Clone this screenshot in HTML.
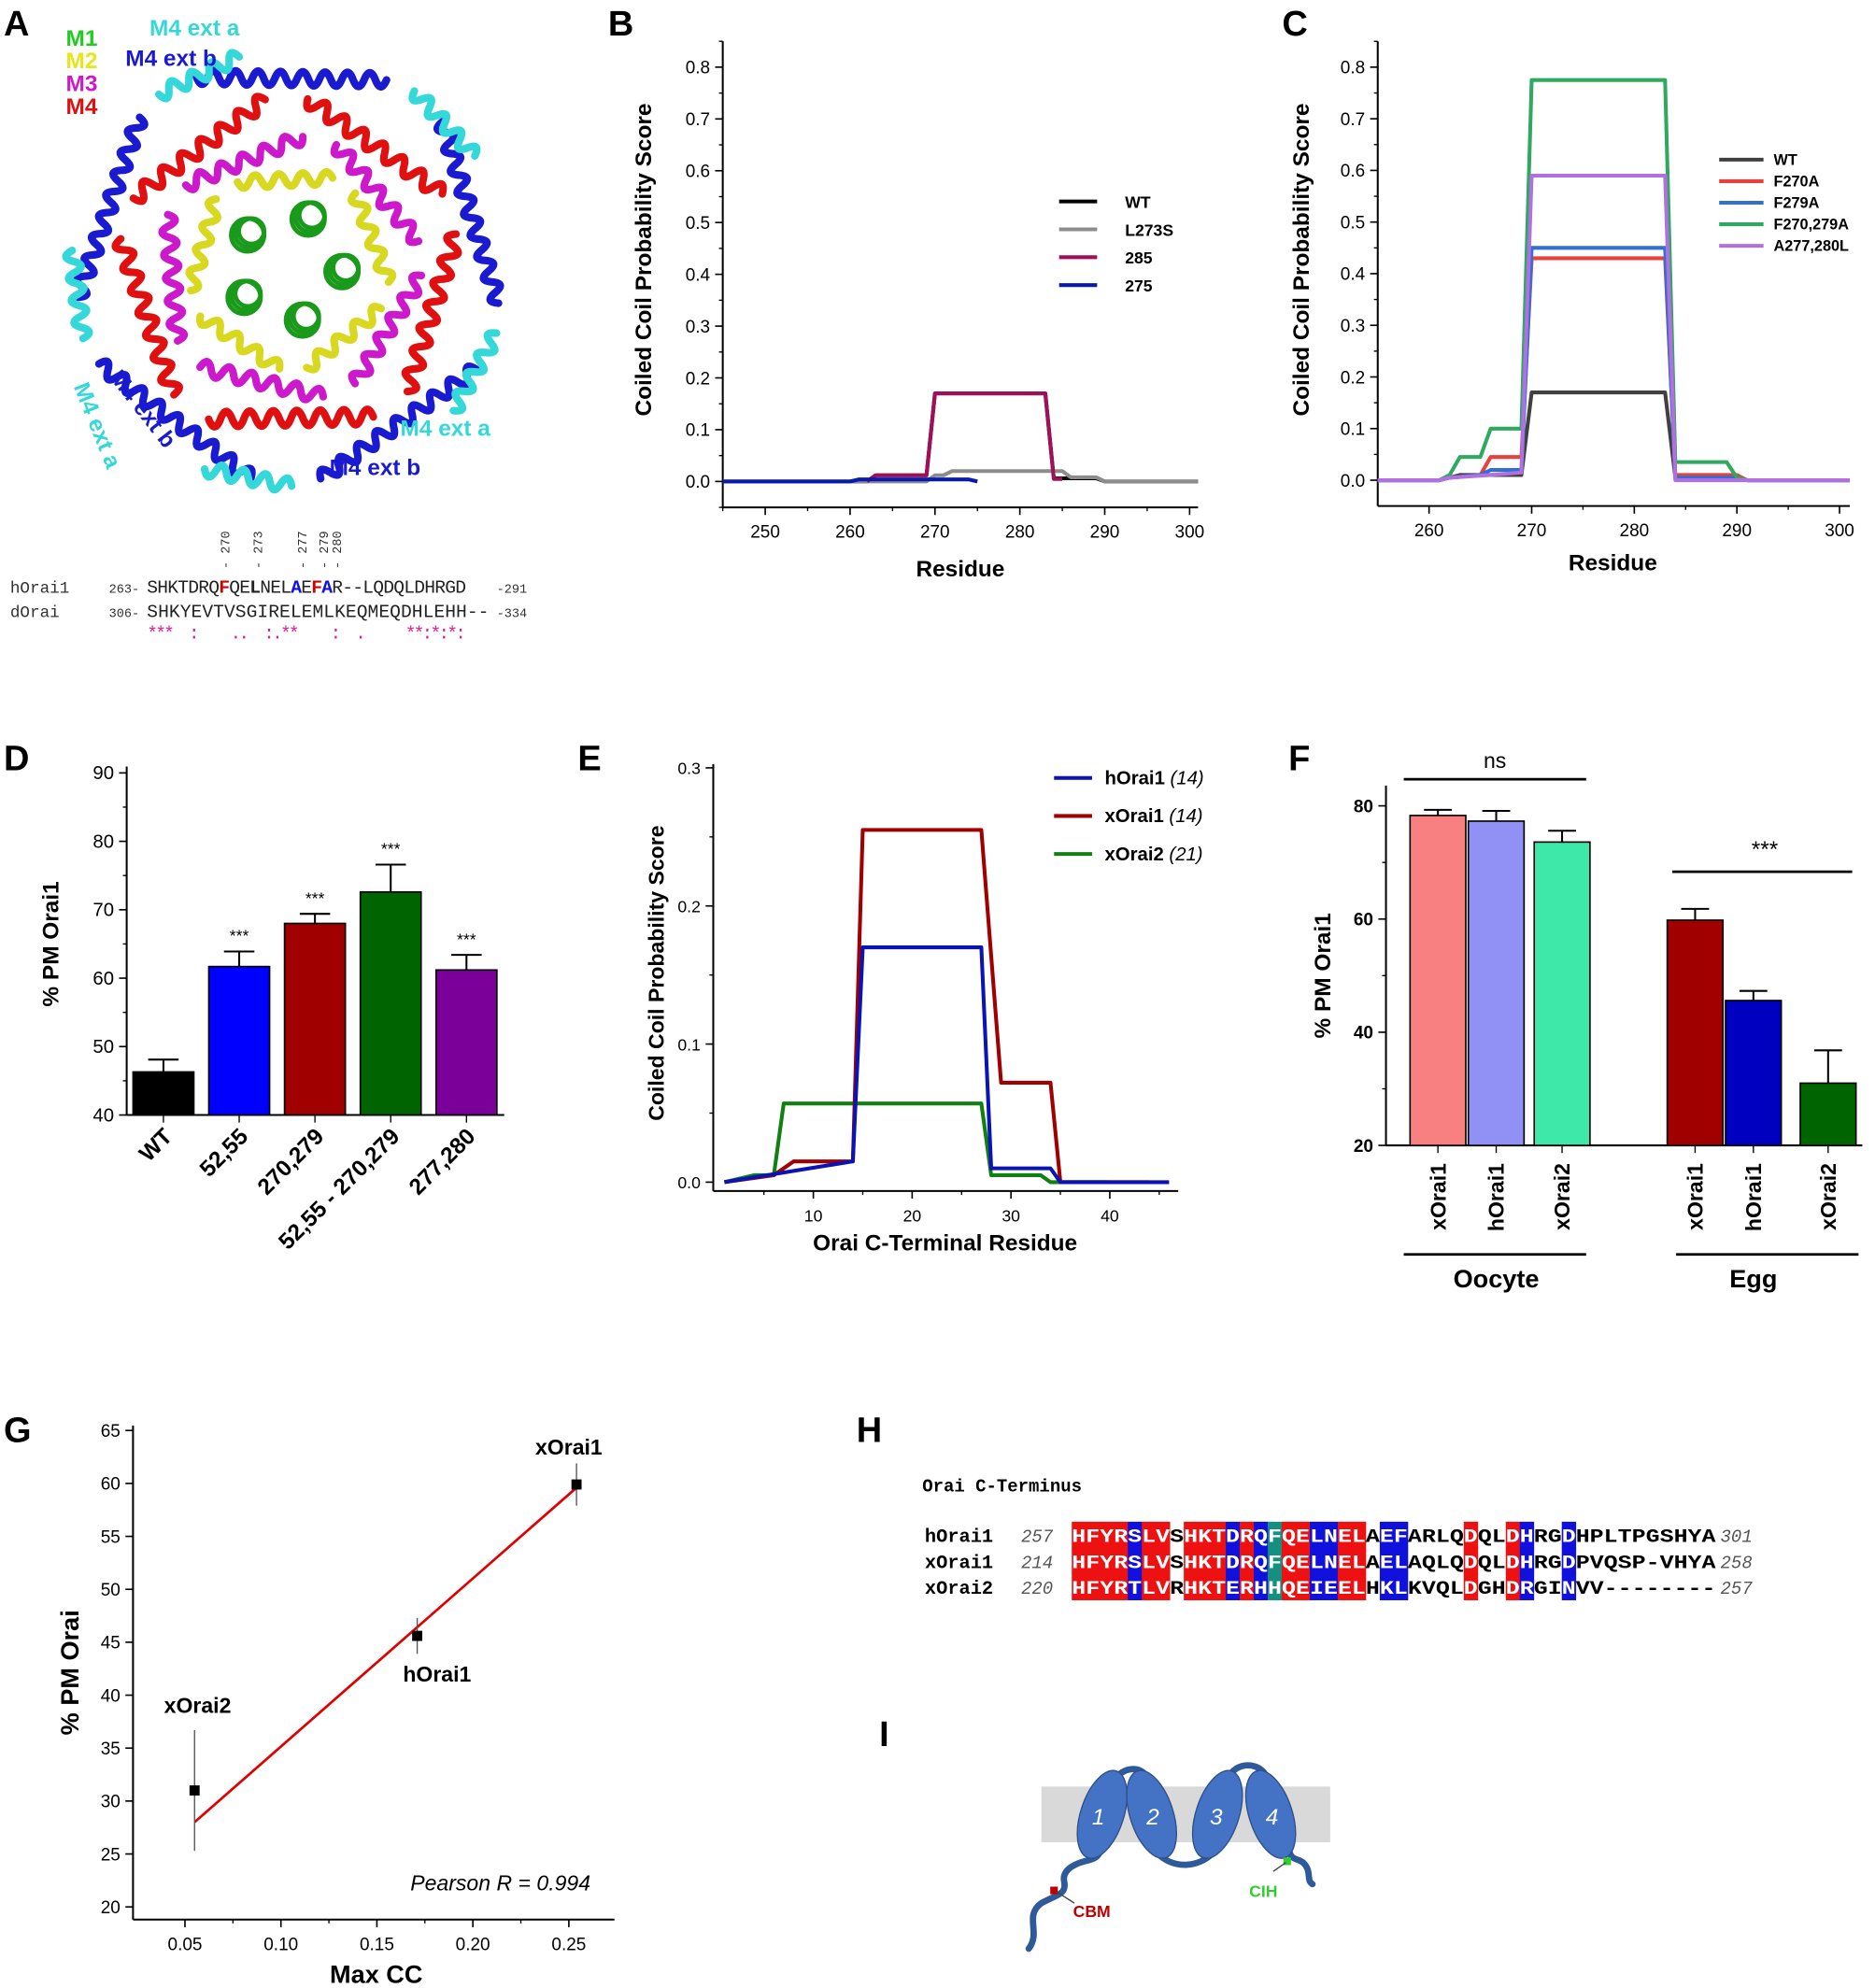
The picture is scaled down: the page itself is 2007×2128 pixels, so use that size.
<!DOCTYPE html>
<html><head><meta charset="utf-8"><style>
html,body{margin:0;padding:0;background:#fff;}
svg{display:block;font-family:"Liberation Sans",Arial,sans-serif;}
</style></head><body>
<svg id="fig" xmlns="http://www.w3.org/2000/svg" width="2007" height="2128" viewBox="0 0 1480 1569" preserveAspectRatio="none">
<g font-size="28" font-weight="bold" fill="#000">
<text x="3" y="28">A</text>
<text x="480" y="28">B</text>
<text x="1012" y="28">C</text>
<text x="3" y="608">D</text>
<text x="456" y="608">E</text>
<text x="1017" y="608">F</text>
<text x="3" y="1138">G</text>
<text x="676" y="1138">H</text>
<text x="694" y="1378">I</text>
</g>
<g id="panelA"></g>
<g font-size="18" font-weight="bold">
<text x="52" y="36" fill="#1fcc1f">M1</text>
<text x="52" y="54" fill="#e6e619">M2</text>
<text x="52" y="72" fill="#cc19cc">M3</text>
<text x="52" y="90" fill="#e01010">M4</text>
<text x="118" y="28" fill="#35d8d8">M4 ext a</text>
<text x="99" y="52" fill="#1a1ad0">M4 ext b</text>
<text x="316" y="344" fill="#35d8d8">M4 ext a</text>
<text x="260" y="375" fill="#1a1ad0">M4 ext b</text>
<text transform="translate(58,305) rotate(68)" fill="#35d8d8">M4 ext a</text>
<text transform="translate(86,298) rotate(52)" fill="#1a1ad0">M4 ext b</text>
</g>
<g font-family="Liberation Mono, monospace">
<g font-size="10" fill="#333">
<text transform="translate(181,449) rotate(-90)">- 270</text>
<text transform="translate(207,449) rotate(-90)">- 273</text>
<text transform="translate(242,449) rotate(-90)">- 277</text>
<text transform="translate(259,449) rotate(-90)">- 279</text>
<text transform="translate(269,449) rotate(-90)">- 280</text>
</g>
<text x="8" y="468" font-size="13" fill="#333">hOrai1</text>
<text x="8" y="487" font-size="13" fill="#333">dOrai</text>
<text x="86" y="468" font-size="10" fill="#333">263-</text>
<text x="86" y="487" font-size="10" fill="#333">306-</text>
<text x="116" y="468" font-size="14.5" fill="#222" textLength="252">SHKTDRQ<tspan fill="#d00000" font-weight="bold">F</tspan>QE<tspan font-weight="bold">L</tspan>NEL<tspan fill="#1010e0" font-weight="bold">A</tspan>E<tspan fill="#d00000" font-weight="bold">F</tspan><tspan fill="#1010e0" font-weight="bold">A</tspan>R--LQDQLDHRGD</text>
<text x="116" y="487" font-size="14.5" fill="#222" textLength="270">SHKYEVTVSGIRELEMLKEQMEQDHLEHH--</text>
<text x="392" y="468" font-size="10" fill="#333">-291</text>
<text x="392" y="487" font-size="10" fill="#333">-334</text>
<text x="116" y="504" font-size="14.5" fill="#e0208f" textLength="252" xml:space="preserve">***  :    ..  :.**    :  .     **:*:*:</text>
</g>
<g id="panelB"></g>
<g id="panelC"></g>
<g id="panelD"></g>
<g id="panelE"></g>
<g id="panelF"></g>
<g id="panelG"></g>
<g id="panelH" font-family="Liberation Mono, monospace">
<text x="728" y="1177" font-size="14" font-weight="bold">Orai C-Terminus</text>
</g>
<g>
<rect x="822" y="1410" width="228" height="44" fill="#d9d9d9"/>
<path d="M812,1538 C822,1525 808,1512 822,1502 C835,1495 842,1495 840,1485 C838,1475 850,1470 860,1468 C868,1466 868,1462 870,1455 M880,1405 C885,1395 900,1393 905,1402 M913,1462 C925,1475 945,1475 958,1462 M970,1403 C975,1390 995,1390 1000,1403 M1018,1462 C1020,1470 1028,1465 1032,1475 C1034,1480 1032,1485 1036,1487" fill="none" stroke="#2e5a99" stroke-width="5" stroke-linecap="round"/>
<ellipse cx="870" cy="1432" rx="17" ry="36" transform="rotate(18 870 1432)" fill="#4472c4" stroke="#2e4f8a"/>
<ellipse cx="909" cy="1432" rx="17" ry="36" transform="rotate(-18 909 1432)" fill="#4472c4" stroke="#2e4f8a"/>
<ellipse cx="961" cy="1432" rx="17" ry="36" transform="rotate(18 961 1432)" fill="#4472c4" stroke="#2e4f8a"/>
<ellipse cx="1003" cy="1432" rx="17" ry="36" transform="rotate(-18 1003 1432)" fill="#4472c4" stroke="#2e4f8a"/>
<g font-size="18" fill="#fff" font-style="italic" text-anchor="middle">
<text x="867" y="1440">1</text>
<text x="910" y="1440">2</text>
<text x="960" y="1440">3</text>
<text x="1004" y="1440">4</text>
</g>
<rect x="829" y="1489" width="6" height="6" fill="#c00000"/>
<rect x="1013" y="1466" width="6" height="6" fill="#33cc33"/>
<line x1="834" y1="1493" x2="848" y2="1502" stroke="#444"/>
<line x1="1015" y1="1470" x2="1005" y2="1477" stroke="#444"/>
<text x="847" y="1513" font-size="13" font-weight="bold" fill="#c00000">CBM</text>
<text x="986" y="1497" font-size="13" font-weight="bold" fill="#33cc33">CIH</text>
</g>
</svg>
<script>
const NS='http://www.w3.org/2000/svg';
function mk(tag,attrs,parent,txt){const e=document.createElementNS(NS,tag);for(const k in attrs)e.setAttribute(k,attrs[k]);if(txt!==undefined)e.textContent=txt;parent.appendChild(e);return e;}
function lin(d0,d1,p0,p1){return v=>p0+(v-d0)*(p1-p0)/(d1-d0);}

// ---------- Panel B data ----------
const bSeriesNames=['WT','L273S','285','275'];
const bColors=['#000000','#8c8c8c','#a0105a','#0a1ab0'];
const bWT_x=[245,262,263,269,270,283,284,289,290,301];
const bWT_y=[0,0,0.012,0.012,0.17,0.17,0.006,0.006,0,0];
const bL273S_x=[245,269,270,271,272,285,286,289,290,301];
const bL273S_y=[0,0,0.012,0.012,0.02,0.02,0.008,0.008,0,0];
const b285_x=[262,263,269,270,283,284,285];
const b285_y=[0,0.012,0.012,0.17,0.17,0.005,0.005];
const b275_x=[245,260,261,274,275];
const b275_y=[0,0,0.004,0.004,0];
const bXTicks=[250,260,270,280,290,300];
const bYTicks=[0,0.1,0.2,0.3,0.4,0.5,0.6,0.7,0.8];

// ---------- Panel C data ----------
const cSeriesNames=['WT','F270A','F279A','F270,279A','A277,280L'];
const cColors=['#404040','#e8403a','#2f6fd6','#2fa860','#b070e0'];
const cWT_x=[255,261,262,263,269,270,283,284,290,291,301];
const cWT_y=[0,0,0.005,0.01,0.01,0.17,0.17,0.005,0.005,0,0];
const cF270A_x=[255,261,262,265,266,269,270,283,284,290,291,301];
const cF270A_y=[0,0,0.005,0.01,0.045,0.045,0.43,0.43,0.01,0.01,0,0];
const cF279A_x=[255,261,262,265,266,269,270,283,284,290,291,301];
const cF279A_y=[0,0,0.005,0.01,0.02,0.02,0.45,0.45,0.005,0.005,0,0];
const cF270279A_x=[255,261,262,263,265,266,269,270,283,284,289,290,291,301];
const cF270279A_y=[0,0,0.01,0.045,0.045,0.1,0.1,0.775,0.775,0.035,0.035,0.005,0,0];
const cA277280L_x=[255,261,262,266,269,270,283,284,301];
const cA277280L_y=[0,0,0.005,0.01,0.015,0.59,0.59,0,0];
const cXTicks=[260,270,280,290,300];
const cYTicks=[0,0.1,0.2,0.3,0.4,0.5,0.6,0.7,0.8];

// ---------- Panel D data ----------
const dCategories=['WT','52,55','270,279','52,55 - 270,279','277,280'];
const dValues=[46.3,61.7,68.0,72.6,61.2];
const dErrors=[1.8,2.2,1.4,4.0,2.2];
const dSig=['','***','***','***','***'];
const dColors=['#000000','#0000ff','#a00000','#006400','#7b0099'];
const dYTicks=[40,50,60,70,80,90];

// ---------- Panel E data ----------
const eSeriesNames=['hOrai1','xOrai1','xOrai2'];
const eCounts=['(14)','(14)','(21)'];
const eColors=['#0a14b4','#a00000','#108010'];
const eH_x=[1,14,15,27,28,29,34,35,46];
const eH_y=[0,0.015,0.17,0.17,0.01,0.01,0.01,0,0];
const eX1_x=[1,6,8,14,15,27,29,34,35,44];
const eX1_y=[0,0.005,0.015,0.015,0.255,0.255,0.072,0.072,0,0];
const eX2_x=[1,4,6,7,27,28,33,34,40];
const eX2_y=[0,0.005,0.005,0.057,0.057,0.005,0.005,0,0];
const eXTicks=[10,20,30,40];
const eYTicks=[0,0.1,0.2,0.3];

// ---------- Panel F data ----------
const fCategories=['xOrai1','hOrai1','xOrai2','xOrai1','hOrai1','xOrai2'];
const fValues=[78.3,77.3,73.6,59.8,45.6,31.0];
const fErrors=[1.0,1.8,2.0,2.0,1.7,5.8];
const fColors=['#f88080','#9090f5','#3de8a8','#a00000','#0000c0','#006400'];
const fYTicks=[20,40,60,80];

// ---------- Panel G data ----------
const gLabels=['xOrai2','hOrai1','xOrai1'];
const gX=[0.055,0.171,0.254];
const gY=[31.0,45.6,59.9];
const gErr=[5.7,1.7,2.0];
const gFitX=[0.055,0.254];
const gFitY=[28.0,59.6];
const gXTicks=[0.05,0.10,0.15,0.20,0.25];
const gYTicks=[20,25,30,35,40,45,50,55,60,65];

function fmt(v,d){return v.toFixed(d);}

function axes(g,o){
  let e=mk('line',{x1:o.x0,y1:o.y1,x2:o.x0,y2:o.y0,stroke:'#000','stroke-width':1.5},g);
  
  
  if(o.xline!==false){
    e=mk('line',{x1:o.x0,y1:o.y1,x2:o.x1,y2:o.y1,stroke:'#000','stroke-width':1.5},g);
    
    
  }
  o.yticks.forEach(v=>{
    const y=o.ys(v);
    let t=mk('line',{x1:o.x0-6,y1:y,x2:o.x0,y2:y,stroke:'#000','stroke-width':1.2},g);
    
    
    let l=mk('text',{x:o.x0-10,y:y+5,'text-anchor':'end','font-size':o.fs||14,'font-weight':o.fw||'normal'},g,fmt(v,o.ydec));
    
    
  });
  (o.yminor||[]).forEach(v=>{
    const y=o.ys(v);
    let t=mk('line',{x1:o.x0-3,y1:y,x2:o.x0,y2:y,stroke:'#000'},g);
    
    
  });
  (o.xticks||[]).forEach(v=>{
    const x=o.xs(v);
    let t=mk('line',{x1:x,y1:o.y1,x2:x,y2:o.y1+6,stroke:'#000','stroke-width':1.2},g);
    
    
    let l=mk('text',{x:x,y:o.y1+24,'text-anchor':'middle','font-size':o.fs||14},g,fmt(v,o.xdec));
    
    
  });
  (o.xminor||[]).forEach(v=>{
    const x=o.xs(v);
    let t=mk('line',{x1:x,y1:o.y1,x2:x,y2:o.y1+3,stroke:'#000'},g);
    
    
  });
}
function series(g,xs,ys,X,Y,color,name,w){
  const pts=X.map((v,i)=>xs(v).toFixed(1)+','+ys(Y[i]).toFixed(1)).join(' ');
  const p=mk('polyline',{points:pts,fill:'none',stroke:color,'stroke-width':w||3,'stroke-linejoin':'round'},g);
  
  
}
function title(g,x,y,txt,rot,fs){
  const t=mk('text',{x:0,y:0,transform:`translate(${x},${y})`+(rot?' rotate(-90)':''),'text-anchor':'middle','font-size':fs||18,'font-weight':'bold'},g,txt);
  return t;
}

// ---------- Panel B ----------
(function(){
  const g=document.getElementById('panelB');
  const xs=lin(250,300,604,939), ys=lin(0,0.8,380,53);
  const ymin=[];for(let v=-0.05;v<0.86;v+=0.1)ymin.push(v);
  const xmin=[];for(let v=245;v<=301;v+=10)xmin.push(v);
  axes(g,{x0:xs(245),x1:xs(301),y0:ys(0.85),y1:ys(-0.05),xs,ys,xticks:bXTicks,yticks:bYTicks,xdec:0,ydec:1,yminor:ymin,xminor:xmin,fs:14});
  const X=[bWT_x,bL273S_x,b285_x,b275_x], Y=[bWT_y,bL273S_y,b285_y,b275_y];
  X.forEach((xx,i)=>series(g,xs,ys,xx,Y[i],bColors[i],'series-b-'+bSeriesNames[i].toLowerCase(),3));
  bSeriesNames.forEach((n,i)=>{
    const y=159+i*22;
    let l=mk('line',{x1:836,y1:y,x2:866,y2:y,stroke:bColors[i],'stroke-width':3},g);
    
    
    let t=mk('text',{x:888,y:y+5,'font-size':13,'font-weight':'bold'},g,n);
    
    
  });
  let t=title(g,514,205,'Coiled Coil Probability Score',true,18);
  
  
  t=title(g,758,455,'Residue',false,18);
  
  
})();

// ---------- Panel C ----------
(function(){
  const g=document.getElementById('panelC');
  const xs=lin(260,300,1128,1452), ys=lin(0,0.8,379,53);
  const ymin=[];for(let v=0.05;v<0.86;v+=0.1)ymin.push(v);
  const xmin=[];for(let v=265;v<=300;v+=10)xmin.push(v);
  axes(g,{x0:xs(255),x1:xs(301),y0:ys(0.85),y1:ys(-0.05),xs,ys,xticks:cXTicks,yticks:cYTicks,xdec:0,ydec:1,yminor:ymin,xminor:xmin,fs:14});
  const X=[cWT_x,cF270A_x,cF279A_x,cF270279A_x,cA277280L_x], Y=[cWT_y,cF270A_y,cF279A_y,cF270279A_y,cA277280L_y];
  X.forEach((xx,i)=>series(g,xs,ys,xx,Y[i],cColors[i],'series-c-'+i,3));
  cSeriesNames.forEach((n,i)=>{
    const y=126+i*17;
    let l=mk('line',{x1:1357,y1:y,x2:1392,y2:y,stroke:cColors[i],'stroke-width':3},g);
    
    
    let t=mk('text',{x:1400,y:y+4,'font-size':12,'font-weight':'bold'},g,n);
    
    
  });
  let t=title(g,1033,205,'Coiled Coil Probability Score',true,18);
  
  
  t=title(g,1273,450,'Residue',false,18);
  
  
})();

// ---------- Panel D ----------
(function(){
  const g=document.getElementById('panelD');
  const ys=lin(40,90,880,610);
  const cx=i=>129+i*59.8;
  axes(g,{x0:100,x1:398,y0:605,y1:880,xs:null,ys,xticks:[],yticks:dYTicks,ydec:0,yminor:[45,55,65,75,85],fs:15});
  dValues.forEach((v,i)=>{
    const x=cx(i);
    let r=mk('rect',{x:x-24,y:ys(v),width:48,height:880-ys(v),fill:dColors[i],stroke:'#000','stroke-width':1.2},g);
    
    
    const ye=ys(v+dErrors[i]);
    let e=mk('path',{d:`M${x},${ys(v)} V${ye} M${x-12},${ye} H${x+12}`,stroke:'#000','stroke-width':1.5,fill:'none'},g);
    
    
    if(dSig[i]){
      let s=mk('text',{x:x,y:ye-8,'text-anchor':'middle','font-size':13},g,dSig[i]);
      
      
    }
    let t=mk('line',{x1:x,y1:880,x2:x,y2:886,stroke:'#000'},g);
    
    
    let l=mk('text',{x:0,y:0,transform:`translate(${x+8},${898}) rotate(-45)`,'text-anchor':'end','font-size':18,'font-weight':'bold'},g,dCategories[i]);
    
    
  });
  let t=title(g,46,745,'% PM Orai1',true,18);
  
  
})();

// ---------- Panel E ----------
(function(){
  const g=document.getElementById('panelE');
  const xs=lin(10,40,642,876), ys=lin(0,0.3,933,606);
  axes(g,{x0:563,x1:930,y0:603,y1:940,xs,ys,xticks:eXTicks,yticks:eYTicks,xdec:0,ydec:1,yminor:[0.05,0.15,0.25],xminor:[5,15,25,35,45],fs:13});
  const X=[eH_x,eX1_x,eX2_x], Y=[eH_y,eX1_y,eX2_y];
  [2,1,0].forEach(i=>series(g,xs,ys,X[i],Y[i],eColors[i],'series-e-'+eSeriesNames[i].toLowerCase(),3));
  eSeriesNames.forEach((n,i)=>{
    const y=614+i*30;
    let l=mk('line',{x1:832,y1:y,x2:862,y2:y,stroke:eColors[i],'stroke-width':3},g);
    
    
    let t=mk('text',{x:872,y:y+5,'font-size':15,'font-weight':'bold'},g,n+' ');
    
    
    const ts=mk('tspan',{'font-style':'italic','font-weight':'normal'},t,eCounts[i]);
    
    
  });
  let t=title(g,524,768,'Coiled  Coil Probability Score',true,17);
  
  
  t=title(g,746,987,'Orai C-Terminal Residue',false,18);
  
  
})();

// ---------- Panel F ----------
(function(){
  const g=document.getElementById('panelF');
  const ys=lin(20,80,904,636);
  const cxs=[1135,1181,1233,1338,1384,1443];
  axes(g,{x0:1094,x1:1470,y0:620,y1:904,xs:null,ys,xticks:[],yticks:fYTicks,ydec:0,yminor:[30,50,70],fs:14,fw:'bold'});
  fValues.forEach((v,i)=>{
    const x=cxs[i];
    let r=mk('rect',{x:x-22,y:ys(v),width:44,height:904-ys(v),fill:fColors[i],stroke:'#000','stroke-width':1.2},g);
    
    
    const ye=ys(v+fErrors[i]);
    let e=mk('path',{d:`M${x},${ys(v)} V${ye} M${x-11},${ye} H${x+11}`,stroke:'#000','stroke-width':1.5,fill:'none'},g);
    
    
    let tk=mk('line',{x1:x,y1:904,x2:x,y2:910,stroke:'#000'},g);
    
    
    let l=mk('text',{x:0,y:0,transform:`translate(${x+6},${918}) rotate(-90)`,'text-anchor':'end','font-size':17,'font-weight':'bold'},g,fCategories[i]);
    
    
  });
  const ann=[['M1108,990 H1252','oocyte-bracket'],['M1323,990 H1467','egg-bracket'],['M1108,615 H1252','ns-line'],['M1320,688 H1462','significance-line']];
  ann.forEach(a=>{let p=mk('path',{d:a[0],stroke:'#000','stroke-width':2},g);});
  let t=mk('text',{x:1180,y:606,'text-anchor':'middle','font-size':17},g,'ns');
  
  
  t=mk('text',{x:1393,y:676,'text-anchor':'middle','font-size':18},g,'***');
  
  
  t=title(g,1181,1016,'Oocyte',false,20);
  
  
  t=title(g,1384,1016,'Egg',false,20);
  
  
  t=title(g,1050,770,'% PM Orai1',true,18);
  
  
})();

// ---------- Panel G ----------
(function(){
  const g=document.getElementById('panelG');
  const xs=lin(0.05,0.25,146,449), ys=lin(20,65,1505,1129);
  axes(g,{x0:105,x1:485,y0:1125,y1:1515,xs,ys,xticks:gXTicks,yticks:gYTicks,xdec:2,ydec:0,xminor:[0.075,0.125,0.175,0.225],fs:14});
  let f=mk('line',{x1:xs(gFitX[0]),y1:ys(gFitY[0]),x2:xs(gFitX[1]),y2:ys(gFitY[1]),stroke:'#e00000','stroke-width':2},g);
  
  
  const lab=[[156,1352],[345,1327],[449,1148]];
  gX.forEach((v,i)=>{
    const x=xs(v),y=ys(gY[i]);
    let e=mk('line',{x1:x,y1:ys(gY[i]-gErr[i]),x2:x,y2:ys(gY[i]+gErr[i]),stroke:'#555','stroke-width':1},g);
    
    
    let p=mk('rect',{x:x-4,y:y-4,width:8,height:8,fill:'#000'},g);
    
    
    let t=mk('text',{x:lab[i][0],y:lab[i][1],'text-anchor':'middle','font-size':17,'font-weight':'bold'},g,gLabels[i]);
    
    
  });
  let t=mk('text',{x:395,y:1492,'text-anchor':'middle','font-size':17,'font-style':'italic'},g,'Pearson R = 0.994');
  
  
  t=title(g,297,1565,'Max CC',false,20);
  
  
  t=title(g,62,1320,'% PM Orai',true,20);
  
  
})();

// ---------- Panel H alignment ----------
(function(){
  const g=document.getElementById('panelH');
  const rows=[['hOrai1','257','HFYRSLVSHKTDRQFQELNELAEFARLQDQLDHRGDHPLTPGSHYA','301'],
              ['xOrai1','214','HFYRSLVSHKTDRQFQELNELAELAQLQDQLDHRGDPVQSP-VHYA','258'],
              ['xOrai2','220','HFYRTLVRHKTERHHQEIEELHKLKVQLDGHDRGINVV--------','257']];
  const colColor={};
  [0,1,2,3,5,6,8,9,10,12,15,16,19,20,28,31].forEach(c=>colColor[c]='#ee1111');
  [4,11,13,17,18,22,23,32,35].forEach(c=>colColor[c]='#1111dd');
  colColor[14]='#159080';
  const cw=11.05,x0=846;
  rows.forEach((r,ri)=>{
    const y=1217+ri*20.5;
    for(let c=0;c<r[2].length;c++){
      if(colColor[c]){
        let b=mk('rect',{x:x0+c*cw,y:y-16,width:cw+0.3,height:21,fill:colColor[c]},g);
        
        
      }
    }
    let n=mk('text',{x:730,y:y,'font-size':15,'font-weight':'bold'},g,r[0]);
    
    
    let s=mk('text',{x:806,y:y,'font-size':14,'font-style':'italic',fill:'#555'},g,r[1]);
    
    
    let q=mk('text',{x:x0,y:y,'font-size':15,'font-weight':'bold',textLength:(r[2].length*cw).toFixed(1),lengthAdjust:'spacingAndGlyphs'},g);
    
    
    for(let c=0;c<r[2].length;c++){
      const ts=mk('tspan',{fill:colColor[c]?'#fff':'#000'},q,r[2][c]);
      
      
    }
    let e=mk('text',{x:1358,y:y,'font-size':14,'font-style':'italic',fill:'#555'},g,r[3]);
    
    
  });
})();

// ---------- Panel A structure (approximate) ----------
(function(){
  const g=document.getElementById('panelA');
  const cx=228,cy=212;
  function helix(x1,y1,x2,y2,color,w,name){
    const dx=x2-x1,dy=y2-y1,L=Math.hypot(dx,dy),nx=-dy/L,ny=dx/L;
    const n=Math.max(4,Math.round(L/9));let d=`M${x1},${y1}`;
    for(let i=1;i<=n;i++){
      const t=i/n,px=x1+dx*t,py=y1+dy*t,s=(i%2?1:-1)*w;
      const qx=x1+dx*(t-0.5/n)+nx*s,qy=y1+dy*(t-0.5/n)+ny*s;
      d+=` Q${qx.toFixed(1)},${qy.toFixed(1)} ${px.toFixed(1)},${py.toFixed(1)}`;
    }
    const p=mk('path',{d,fill:'none',stroke:color,'stroke-width':6,'stroke-linecap':'round'},g);
    
    
  }
  function ring(r,len,color,w,rot,name){
    for(let i=0;i<5;i++){
      const a=rot+i*2*Math.PI/5;
      const mx=cx+r*Math.cos(a),my=cy+r*Math.sin(a);
      const tx=-Math.sin(a),ty=Math.cos(a);
      helix(mx-tx*len/2,my-ty*len/2,mx+tx*len/2,my+ty*len/2,color,w,name);
    }
  }
  ring(150,150,'#1a1ad0',11,-0.3,'m4-ext-b-helix');
  ring(168,70,'#35d8d8',11,-0.75,'m4-ext-a-helix');
  ring(118,130,'#e01010',12,0.3,'m4-helix');
  ring(92,100,'#cc19cc',11,0.55,'m3-helix');
  ring(70,75,'#d8d820',10,0.9,'m2-helix');
  for(let i=0;i<5;i++){
    const a=-1.2+i*2*Math.PI/5;
    const x=cx+42*Math.cos(a),y=cy+42*Math.sin(a);
    for(let j=0;j<3;j++){
      const c=mk('circle',{cx:x+j*1.5,cy:y-j*1.5,r:13-j*1.5,fill:'none',stroke:'#1a9a1a','stroke-width':3.5},g);
      
      
    }
  }
})();
</script>
</body></html>
